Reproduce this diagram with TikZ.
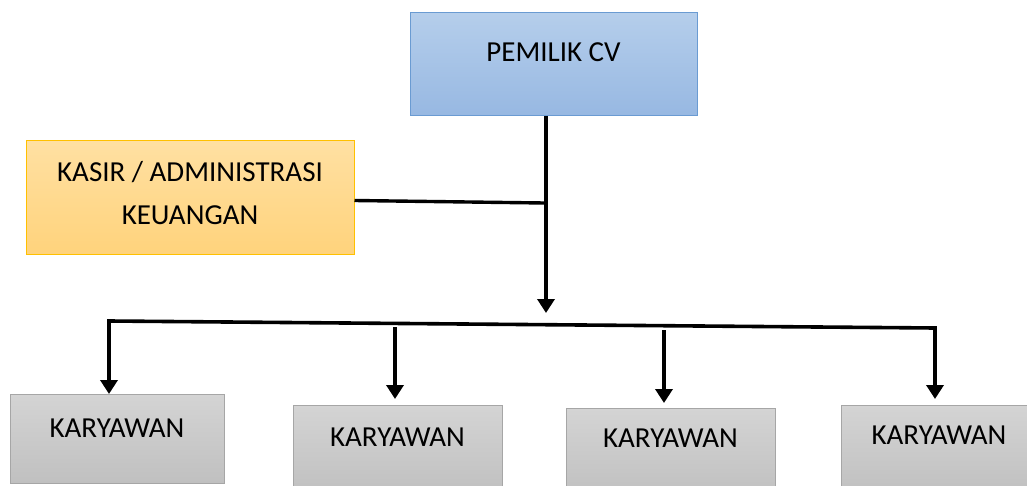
\documentclass[tikz,border=0pt]{standalone}
\usepackage{fontspec}
\setmainfont{Carlito}
\usetikzlibrary{arrows.meta}
\definecolor{blueTop}{HTML}{B5CEEB}
\definecolor{blueBot}{HTML}{97B8E2}
\definecolor{blueLine}{HTML}{6A9BD2}
\definecolor{yelTop}{HTML}{FFE0A2}
\definecolor{yelBot}{HTML}{FFD37C}
\definecolor{yelLine}{HTML}{FFC000}
\definecolor{grayTop}{HTML}{D4D4D4}
\definecolor{grayBot}{HTML}{C0C0C0}
\definecolor{grayLine}{HTML}{A6A6A6}
\tikzset{
  boxbase/.style={rectangle, inner sep=0pt, line width=1pt, font=\fontsize{29}{43}\selectfont, align=center, text height=20pt},
  bluebox/.style={boxbase, draw=blueLine, top color=blueTop, bottom color=blueBot},
  yelbox/.style={boxbase, draw=yelLine, top color=yelTop, bottom color=yelBot},
  graybox/.style={boxbase, draw=grayLine, top color=grayTop, bottom color=grayBot},
  conn/.style={line width=3.6pt, draw=black, line join=miter},
  arr/.style={conn, -{Triangle[width=17pt,length=14pt]}},
  darr/.style={conn, {Triangle[width=17pt,length=14pt]}-{Triangle[width=17pt,length=14pt]}},
}
\begin{document}
\begin{tikzpicture}[x=1pt,y=-1pt]
\useasboundingbox (0,0) rectangle (1027,486);
\clip (0,0) rectangle (1027,486);
\fill[white] (0,0) rectangle (1027,486);

\node[bluebox, minimum width=287pt, minimum height=103pt, text depth=25pt] (p) at (553.5,64.5) {PEMILIK CV};
\node[yelbox, minimum width=328pt, minimum height=113pt, text height=55pt, text depth=0pt] (k) at (190,197.5) {KASIR / ADMINISTRASI\\KEUANGAN};

\node[graybox, minimum width=214pt, minimum height=89pt, text depth=23pt] (k1) at (117,438.5) {KARYAWAN};
\node[graybox, minimum width=209pt, minimum height=89pt, text depth=27pt] (k2) at (397.5,449.5) {KARYAWAN};
\node[graybox, minimum width=209pt, minimum height=89pt, text depth=31pt] (k3) at (670.5,452.5) {KARYAWAN};
\node[graybox, minimum width=196pt, minimum height=89pt, text depth=31pt] (k4) at (939,449.5) {KARYAWAN};

\coordinate (j) at (546,116);
\coordinate (bus) at (546,313);
\coordinate (kj) at (544,203);
\coordinate (b1) at (109,321);
\coordinate (b4) at (935,328);
\coordinate (t1) at (109,394);
\coordinate (t4) at (935,399);
\coordinate (d2) at (395,327);
\coordinate (t2) at (395,399);
\coordinate (d3) at (664,330);
\coordinate (t3) at (664,403);

\draw[arr] (j) -- (bus);
\draw[conn, line width=3.4pt] ([yshift=-3pt]k.east) -- (kj);
\draw[darr] (t4) -- (b4) -- (b1) -- (t1);
\draw[arr] (d2) -- (t2);
\draw[arr] (d3) -- (t3);
\end{tikzpicture}
\end{document}
